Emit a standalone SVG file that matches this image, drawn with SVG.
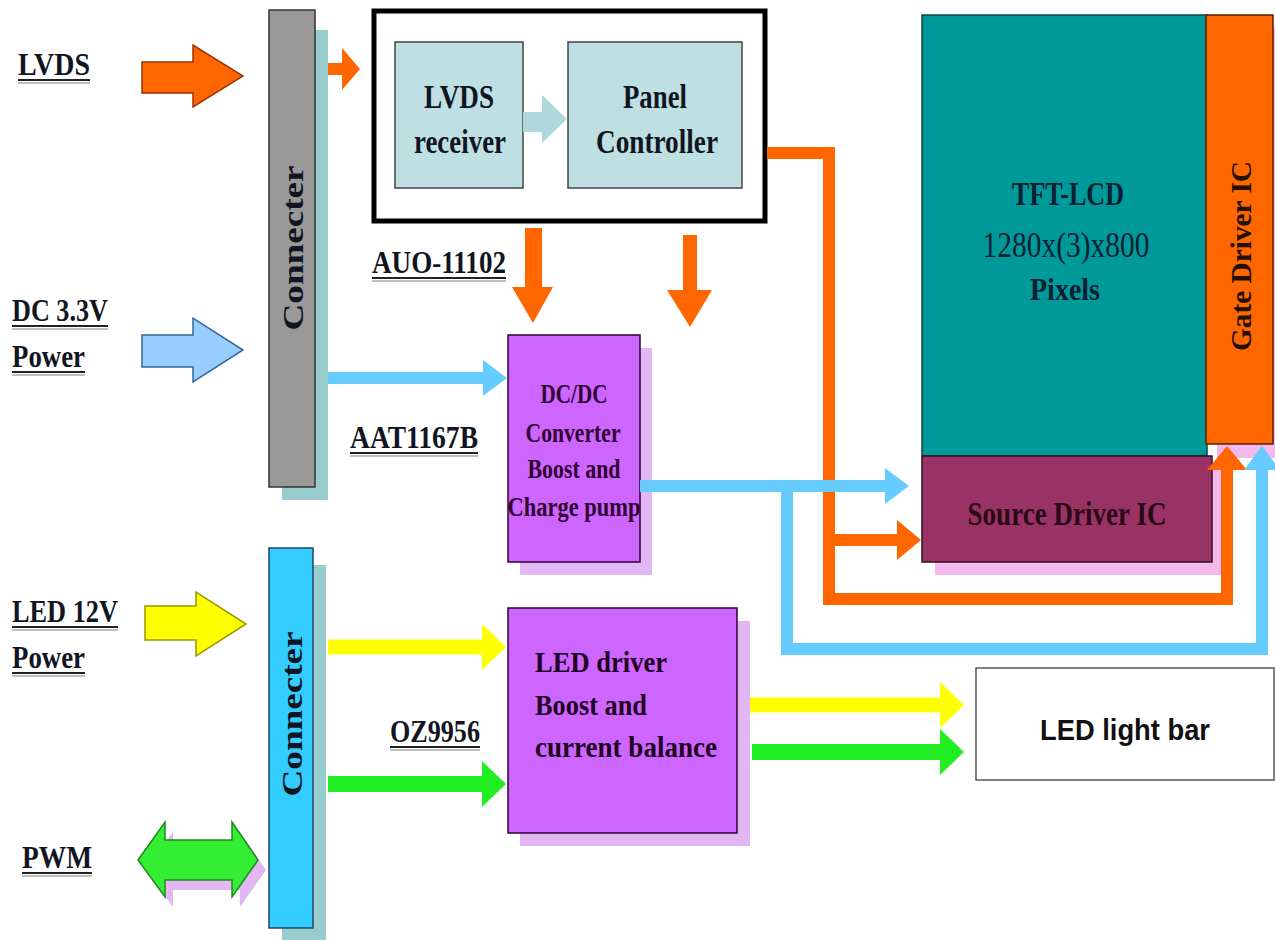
<svg xmlns="http://www.w3.org/2000/svg" width="1275" height="940" viewBox="0 0 1275 940">
<defs>
<style>
.t{font-family:"Liberation Serif","Times New Roman",serif;font-weight:bold;fill:#111522;}
.lbl{font-size:31px;}
.box{font-size:33px;}
.ul{stroke:#222;stroke-width:2.2;}
.ul2{stroke:#aaa;stroke-width:1.5;}
.o{stroke:#ff6600;stroke-width:12;fill:none;}
.b{stroke:#66ccff;stroke-width:12;fill:none;}
.y{stroke:#ffff00;stroke-width:15;fill:none;}
.g{stroke:#22ee22;stroke-width:16;fill:none;}
</style>
<marker id="hO" markerUnits="userSpaceOnUse" markerWidth="24" markerHeight="40" refX="0" refY="20" orient="auto" viewBox="0 0 24 40"><path d="M0,0 L24,20 L0,40 Z" fill="#ff6600"/></marker>
<marker id="hB" markerUnits="userSpaceOnUse" markerWidth="24" markerHeight="36" refX="0" refY="18" orient="auto" viewBox="0 0 24 36"><path d="M0,0 L24,18 L0,36 Z" fill="#66ccff"/></marker>
<marker id="hY" markerUnits="userSpaceOnUse" markerWidth="24" markerHeight="46" refX="0" refY="23" orient="auto" viewBox="0 0 24 46"><path d="M0,0 L24,23 L0,46 Z" fill="#ffff00"/></marker>
<marker id="hG" markerUnits="userSpaceOnUse" markerWidth="24" markerHeight="46" refX="0" refY="23" orient="auto" viewBox="0 0 24 46"><path d="M0,0 L24,23 L0,46 Z" fill="#22ee22"/></marker>
</defs>
<rect width="1275" height="940" fill="#ffffff"/>

<!-- labels -->
<g id="label-lvds">
<text class="t lbl" x="18" y="75" textLength="72" lengthAdjust="spacingAndGlyphs">LVDS</text>
<line class="ul" x1="18" y1="80" x2="90" y2="80"/><line class="ul2" x1="18" y1="83" x2="90" y2="83"/>
</g>
<g id="label-dc33">
<text class="t lbl" x="12" y="321" textLength="96" lengthAdjust="spacingAndGlyphs">DC 3.3V</text>
<line class="ul" x1="12" y1="326" x2="108" y2="326"/><line class="ul2" x1="12" y1="329" x2="108" y2="329"/>
<text class="t lbl" x="12" y="367" textLength="73" lengthAdjust="spacingAndGlyphs">Power</text>
<line class="ul" x1="12" y1="372" x2="85" y2="372"/><line class="ul2" x1="12" y1="375" x2="85" y2="375"/>
</g>
<g id="label-led12">
<text class="t lbl" x="12" y="622" textLength="106" lengthAdjust="spacingAndGlyphs">LED 12V</text>
<line class="ul" x1="12" y1="627" x2="118" y2="627"/><line class="ul2" x1="12" y1="630" x2="118" y2="630"/>
<text class="t lbl" x="12" y="668" textLength="73" lengthAdjust="spacingAndGlyphs">Power</text>
<line class="ul" x1="12" y1="673" x2="85" y2="673"/><line class="ul2" x1="12" y1="676" x2="85" y2="676"/>
</g>
<g id="label-pwm">
<text class="t lbl" x="22" y="868" textLength="70" lengthAdjust="spacingAndGlyphs">PWM</text>
<line class="ul" x1="22" y1="873" x2="92" y2="873"/><line class="ul2" x1="22" y1="876" x2="92" y2="876"/>
</g>
<g id="label-auo">
<text class="t lbl" x="372" y="273" textLength="134" lengthAdjust="spacingAndGlyphs">AUO-11102</text>
<line class="ul" x1="372" y1="278" x2="506" y2="278"/><line class="ul2" x1="372" y1="281" x2="506" y2="281"/>
</g>
<g id="label-aat">
<text class="t lbl" x="350" y="448" textLength="128" lengthAdjust="spacingAndGlyphs">AAT1167B</text>
<line class="ul" x1="350" y1="453" x2="478" y2="453"/><line class="ul2" x1="350" y1="456" x2="478" y2="456"/>
</g>
<g id="label-oz">
<text class="t lbl" x="390" y="742" textLength="90" lengthAdjust="spacingAndGlyphs">OZ9956</text>
<line class="ul" x1="390" y1="747" x2="480" y2="747"/><line class="ul2" x1="390" y1="750" x2="480" y2="750"/>
</g>

<!-- connecters -->
<g id="connecter-top">
<rect x="282" y="30" width="46" height="470" fill="#99cccc"/>
<rect x="269" y="10" width="46" height="477" fill="#999999" stroke="#333333" stroke-width="1.5"/>
<text class="t" transform="translate(303,248) rotate(-90)" text-anchor="middle" font-size="30" textLength="165" lengthAdjust="spacingAndGlyphs">Connecter</text>
</g>
<g id="connecter-bottom">
<rect x="282" y="565" width="44" height="375" fill="#99cccc"/>
<rect x="269" y="548" width="44" height="380" fill="#33ccff" stroke="#224466" stroke-width="1.5"/>
<text class="t" transform="translate(302,714) rotate(-90)" text-anchor="middle" font-size="30" textLength="165" lengthAdjust="spacingAndGlyphs">Connecter</text>
</g>

<!-- AUO module -->
<g id="auo-box">
<rect x="374" y="11" width="391" height="210" fill="#ffffff" stroke="#000000" stroke-width="5"/>
</g>
<g id="lvds-receiver">
<rect x="395" y="42" width="128" height="146" fill="#bfe0e3" stroke="#444444" stroke-width="1.5"/>
<text class="t box" x="459" y="108" text-anchor="middle" textLength="70" lengthAdjust="spacingAndGlyphs">LVDS</text>
<text class="t box" x="460" y="153" text-anchor="middle" textLength="92" lengthAdjust="spacingAndGlyphs">receiver</text>
</g>
<g id="panel-controller">
<rect x="568" y="42" width="174" height="146" fill="#bfe0e3" stroke="#444444" stroke-width="1.5"/>
<text class="t box" x="655" y="108" text-anchor="middle" textLength="64" lengthAdjust="spacingAndGlyphs">Panel</text>
<text class="t box" x="657" y="153" text-anchor="middle" textLength="122" lengthAdjust="spacingAndGlyphs">Controller</text>
</g>

<!-- DC/DC -->
<g id="dcdc">
<rect x="520" y="348" width="132" height="227" fill="#e2b8f4"/>
<rect x="508" y="335" width="132" height="227" fill="#cc66ff" stroke="#330033" stroke-width="1.5"/>
<g class="t" fill="#330033" font-size="27" text-anchor="middle" style="fill:#330033">
<text x="574" y="403" textLength="67" lengthAdjust="spacingAndGlyphs">DC/DC</text>
<text x="573" y="442" textLength="95" lengthAdjust="spacingAndGlyphs">Converter</text>
<text x="574" y="478" textLength="93" lengthAdjust="spacingAndGlyphs">Boost and</text>
<text x="574" y="516" textLength="133" lengthAdjust="spacingAndGlyphs">Charge pump</text>
</g>
</g>

<!-- LED driver -->
<g id="led-driver">
<rect x="520" y="621" width="230" height="225" fill="#e2b8f4"/>
<rect x="508" y="608" width="229" height="225" fill="#cc66ff" stroke="#330033" stroke-width="1.5"/>
<g class="t" font-size="30" style="fill:#220022">
<text x="535" y="672" textLength="132" lengthAdjust="spacingAndGlyphs">LED driver</text>
<text x="535" y="715" textLength="112" lengthAdjust="spacingAndGlyphs">Boost and</text>
<text x="535" y="757" textLength="182" lengthAdjust="spacingAndGlyphs">current balance</text>
</g>
</g>

<!-- TFT panel -->
<g id="tft-lcd">
<rect x="922" y="15" width="285" height="441" fill="#009999" stroke="#114444" stroke-width="1.5"/>
<text class="t" x="1068" y="205" text-anchor="middle" font-size="34" textLength="112" lengthAdjust="spacingAndGlyphs" style="fill:#0d1f33">TFT-LCD</text>
<text x="1066" y="257" text-anchor="middle" font-family="Liberation Serif, Times New Roman, serif" font-size="36" textLength="167" lengthAdjust="spacingAndGlyphs" fill="#0d1f33">1280x(3)x800</text>
<text class="t" x="1065" y="300" text-anchor="middle" font-size="32" textLength="70" lengthAdjust="spacingAndGlyphs" style="fill:#0d1f33">Pixels</text>
</g>
<g id="gate-driver">
<rect x="1217" y="27" width="58" height="431" fill="#f4b8ec"/>
<rect x="1206" y="15" width="67" height="429" fill="#ff6600" stroke="#552200" stroke-width="1.5"/>
<text class="t" transform="translate(1251,256) rotate(-90)" text-anchor="middle" font-size="29" textLength="190" lengthAdjust="spacingAndGlyphs" style="fill:#221100">Gate Driver IC</text>
</g>
<g id="source-driver">
<rect x="935" y="470" width="290" height="105" fill="#f4b8ec"/>
<rect x="922" y="456" width="290" height="106" fill="#993366" stroke="#331122" stroke-width="1.5"/>
<text class="t" x="1067" y="525" text-anchor="middle" font-size="33" textLength="199" lengthAdjust="spacingAndGlyphs" style="fill:#2a0814">Source Driver IC</text>
</g>

<!-- LED light bar -->
<g id="led-light-bar">
<rect x="976" y="668" width="298" height="112" fill="#ffffff" stroke="#555555" stroke-width="1.5"/>
<text x="1125" y="740" text-anchor="middle" font-family="Liberation Sans, Arial, sans-serif" font-weight="bold" font-size="30" textLength="170" lengthAdjust="spacingAndGlyphs" fill="#111111">LED light bar</text>
</g>

<!-- connectors -->
<g id="connectors">
<!-- input block arrows -->
<polygon points="142,62 193,62 193,45 243,76 193,107 193,93 142,93" fill="#ff6600" stroke="#993300" stroke-width="1.5"/>
<polygon points="142,335 193,335 193,318 243,350 193,382 193,367 142,367" fill="#99ccff" stroke="#336699" stroke-width="1.5"/>
<polygon points="145,606 196,606 196,592 246,624 196,656 196,640 145,640" fill="#ffff00" stroke="#999900" stroke-width="1.5"/>
<polygon points="146,870 173,832 173,850 240,850 240,832 266,870 240,907 240,890 173,890 173,907" fill="#e2b8f4"/>
<polygon points="138,860 165,822 165,840 232,840 232,822 258,860 232,897 232,880 165,880 165,897" fill="#33ee33" stroke="#228822" stroke-width="1.5"/>
<!-- connecter to AUO -->
<polygon points="328,63 342,63 342,48 360,69 342,90 342,75 328,75" fill="#ff6600"/>
<!-- receiver to controller -->
<polygon points="523,112 542,112 542,95 567,119 542,143 542,132 523,132" fill="#b0d8dc"/>
<!-- AUO down arrows -->
<polygon points="525,228 542,228 542,287 553,287 533,323 512,287 525,287" fill="#ff6600"/>
<polygon points="683,235 697,235 697,290 712,290 690,327 667,290 683,290" fill="#ff6600"/>
<!-- orange timing lines -->
<path class="o" d="M767,153 H829 V599 H1227 V470" marker-end="url(#hO)"/>
<path class="o" d="M829,540 H897" marker-end="url(#hO)"/>
<!-- blue power lines -->
<path class="b" d="M328,378 H483" marker-end="url(#hB)"/>
<path class="b" d="M640,486 H885" marker-end="url(#hB)"/>
<path class="b" d="M787,486 V649 H1262 V470" marker-end="url(#hB)"/>
<!-- LED lines -->
<path class="y" d="M328,647 H482" marker-end="url(#hY)"/>
<path class="g" d="M328,784 H482" marker-end="url(#hG)"/>
<path class="y" d="M750,705 H940" marker-end="url(#hY)"/>
<path class="g" d="M752,752 H940" marker-end="url(#hG)"/>
</g>
</svg>
